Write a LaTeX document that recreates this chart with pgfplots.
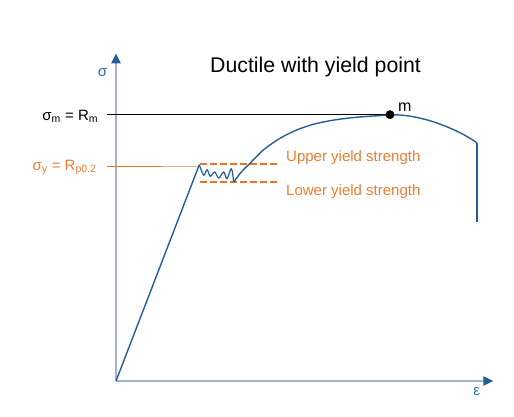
\documentclass[border=0pt]{standalone}
\usepackage{pgfplots}
\pgfplotsset{compat=1.18}
\usepackage{fontspec}
\setmainfont{Liberation Sans}
\usetikzlibrary{arrows.meta}
\definecolor{curveblue}{HTML}{245D9C}
\definecolor{arrowblue}{HTML}{1F5C99}
\definecolor{labelblue}{HTML}{2F6EB0}
\definecolor{axisgray}{HTML}{A7B3C9}
\definecolor{dashorange}{HTML}{E8762A}
\definecolor{textorange}{HTML}{ED7D31}
\definecolor{lineorange}{HTML}{E9732C}
\definecolor{lightorange}{HTML}{F2A98A}
\begin{document}
\begin{tikzpicture}
\begin{axis}[
  x=1pt, y=1pt,
  xmin=0, xmax=514, ymin=0, ymax=416,
  hide axis, clip=false,
  at={(0,0)}, anchor=origin,
]
% axes
\addplot[axisgray, line width=2.2pt, -{Triangle[length=10pt,width=9pt,color=arrowblue]}] coordinates {(116,35) (493.3,35)};
\addplot[axisgray, line width=2.4pt, -{Triangle[length=10pt,width=9pt,color=arrowblue]}] coordinates {(116,35) (116,362.7)};
% reference lines
\addplot[black, line width=1pt] coordinates {(107,301.3) (390,301.3)};
\addplot[lineorange, line width=1.3pt] coordinates {(107,249.5) (162,249.5)};
\addplot[lightorange, line width=1.3pt] coordinates {(162,249.5) (199,249.5)};
\addplot[dashorange, line width=2.2pt, dash pattern=on 6.7pt off 3.3pt] coordinates {(200,252) (280,252)};
\addplot[dashorange, line width=2.2pt, dash pattern=on 6.7pt off 3.3pt] coordinates {(200,233.7) (280,233.7)};
% curve
\addplot[curveblue, line width=1.4pt] coordinates {(116,35) (199.3,251.3)};
\addplot[curveblue, line width=1.2pt, smooth, tension=0.55] coordinates {
  (199.3,251.3) (203.7,240.7) (207,246.3) (210.3,239.7) (214.7,244) (218.7,238)
  (223.7,244) (227,237.3) (231.3,247.3) (233.7,234)};
\addplot[curveblue, line width=1.4pt, smooth, tension=0.5] coordinates {
  (233.7,234) (241.3,244) (250,252.7) (263.3,266) (280,277.7) (296.7,286) (313.3,291.7)
  (330,295.3) (346.7,297.7) (363.3,299.3) (390,301) (400,301) (413.3,299.3)
  (430,295.3) (446.7,289.3) (460,283.3) (470,277.7) (476.7,273.3)};
\addplot[curveblue, line width=1.6pt] coordinates {(476.7,273.3) (476.7,194.3)};
\addplot[only marks, mark=*, mark size=4.2pt, black] coordinates {(390,301.3)};
% texts
\node[anchor=base west, inner sep=0pt, font=\fontsize{21.3}{24}\selectfont] at (axis cs:210,343.7) {Ductile with yield point};
\node[anchor=center, inner sep=0pt, text=labelblue, font=\fontsize{15}{18}\selectfont] at (axis cs:102.5,343.5) {σ};
\node[anchor=center, inner sep=0pt, text=labelblue, font=\fontsize{15}{18}\selectfont] at (axis cs:476.7,24.3) {ε};
\node[anchor=base west, inner sep=0pt, font=\fontsize{16}{19}\selectfont] at (axis cs:398,304.3) {m};
\node[anchor=base east, inner sep=0pt, font=\fontsize{15}{18}\selectfont] at (axis cs:98.3,296) {σ\textsubscript{m} = R\textsubscript{m}};
\node[anchor=base east, inner sep=0pt, text=textorange, font=\fontsize{15}{18}\selectfont] at (axis cs:96.7,246) {σ\textsubscript{y} = R\textsubscript{p0.2}};
\node[anchor=base west, inner sep=0pt, text=textorange, font=\fontsize{15}{18}\selectfont] at (axis cs:286,254.3) {Upper yield strength};
\node[anchor=base west, inner sep=0pt, text=textorange, font=\fontsize{15}{18}\selectfont] at (axis cs:286,220.3) {Lower yield strength};
\end{axis}
\pgfresetboundingbox
\path[use as bounding box] (0,0) rectangle (514pt,416pt);
\end{tikzpicture}
\end{document}
